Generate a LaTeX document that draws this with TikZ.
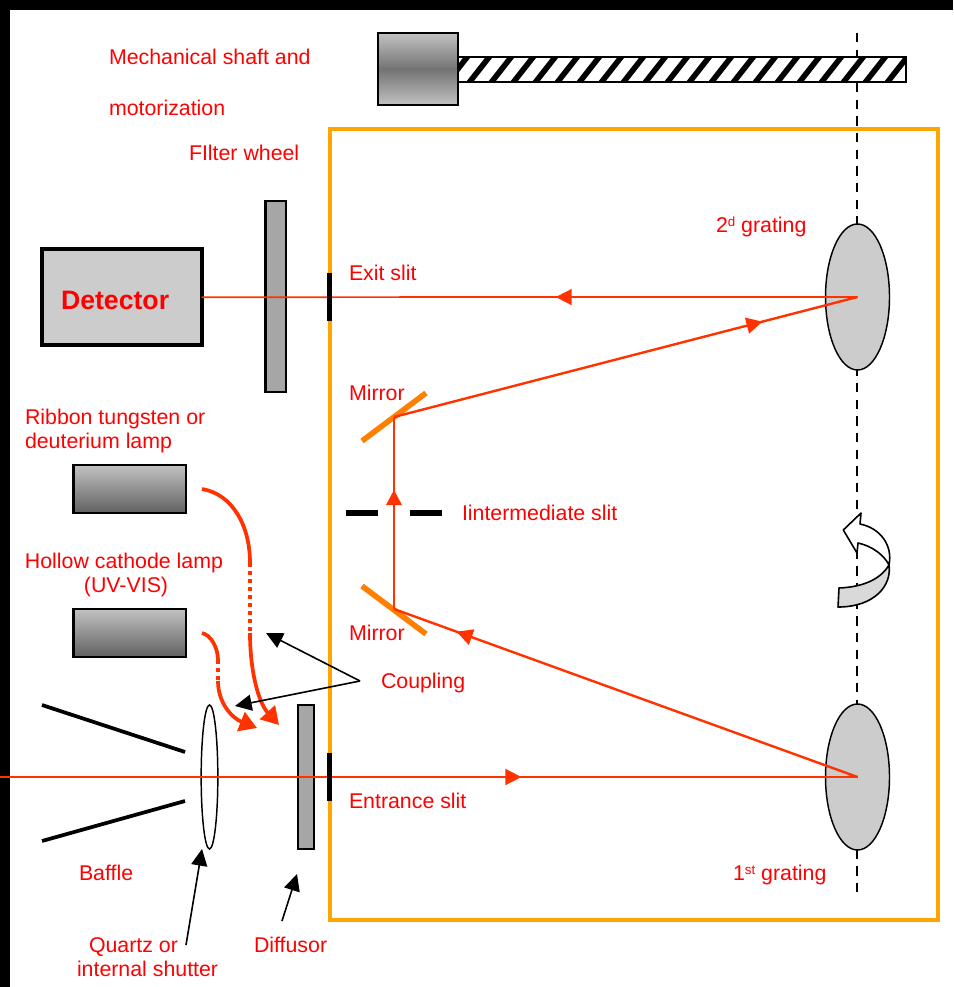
\documentclass[tikz,border=0pt]{standalone}
\usepackage{fontspec}
\setmainfont{Liberation Sans}
\usetikzlibrary{arrows.meta,decorations.markings,shapes.geometric,calc}
\definecolor{beam}{HTML}{FF3300}
\definecolor{lbl}{HTML}{FF0000}
\definecolor{frameor}{HTML}{FFA500}
\definecolor{mirror}{HTML}{FF8000}
\newcommand{\supr}[1]{\raisebox{4.2pt}{\fontsize{10}{10}\selectfont #1}}
\tikzset{
  x=0.75pt,y=-0.75pt,
  every node/.style={outer sep=0pt},
  lab/.style={anchor=base west,inner sep=0,text=lbl,font=\fontsize{16}{18}\selectfont},
  labc/.style={lab,anchor=base},
  box/.style={draw=black,anchor=north west,inner sep=0,line width=1.6pt},
  plate/.style={box,fill=black!35},
  lamp/.style={box,top color=black!24,bottom color=black!62,line width=1.6pt,minimum width=84.5pt,minimum height=36pt},
  slit/.style={fill=black,anchor=north west,inner sep=0,minimum width=4pt,minimum height=36pt},
  grating/.style={draw=black,fill=black!20,ellipse,inner sep=0,line width=1.1pt,minimum width=48pt,minimum height=109.5pt},
  ray/.style={draw=beam,line width=1.3pt},
  rayb/.style={draw=beam,line width=1.8pt},
  midtip/.style={postaction={decorate},decoration={markings,mark=at position #1 with {\arrow{Triangle[length=12pt,width=12pt]}}}},
  mirrorbar/.style={draw=mirror,line width=4.2pt},
  slitbar/.style={line width=3.8pt},
  baffle/.style={line width=2.8pt},
  lampray/.style={draw=beam,line width=2.8pt},
  lampdots/.style={draw=beam,line width=2.8pt,dash pattern=on 2.8pt off 3.2pt},
  lamptip/.style={-{Triangle[length=13pt,width=15pt]}},
  pointer/.style={line width=1.2pt,-{Triangle[length=12.5pt,width=12pt]}},
}
\begin{document}
\begin{tikzpicture}
\useasboundingbox (0,0) rectangle (953,987);
\fill[white] (0,0) rectangle (953,987);
\fill[black] (0,0) rectangle (953,10);
\fill[black] (0,0) rectangle (10,987);

% rotation axis
\coordinate (axtop) at (857,33);
\coordinate (axbot) at (857,897);
\draw[line width=1.4pt,dash pattern=on 7pt off 5.5pt] (axtop) -- (axbot);

% frame
\node[draw=frameor,line width=3pt,anchor=north west,inner sep=0,minimum width=456pt,minimum height=593.25pt] (frame) at (330,129) {};

% shaft + motor
\node[box,line width=1.4pt,fill=white,minimum width=336pt,minimum height=18.5pt] (shaft) at (458,57) {};
\begin{scope}
\clip (458,57) rectangle (906,81);
\foreach \i in {0,...,21}{\draw[line width=4.2pt] ({446+22*\i},84) -- ({446+22*\i+22},56);}
\end{scope}
\draw[line width=1.4pt] (shaft.north west) rectangle (shaft.south east);
\node[box,line width=1.6pt,minimum width=60pt,minimum height=54pt,
  top color=black!24,bottom color=black!24,middle color=black!55] (motor) at (378,33) {};

% gratings
\node[grating] (gr2) at (857.5,297) {};
\node[grating] (gr1) at (857.5,777) {};

% detector, filter, lamps, etc
\node[box,line width=3pt,fill=black!20,minimum width=120pt,minimum height=71.5pt] (det) at (41.5,249.5) {};
\node[plate,minimum width=15.5pt,minimum height=143pt] (filter) at (265.5,201) {};
\node[lamp] (lampa) at (73.5,465) {};
\node[lamp] (lampb) at (73.5,609) {};
\node[plate,minimum width=12pt,minimum height=108pt] (diff) at (298,705) {};
\node[draw=black,ellipse,inner sep=0,line width=1.1pt,minimum width=12.5pt,minimum height=108pt] (lens) at (209.5,777) {};

% baffles
\coordinate (ba1) at (42,705); \coordinate (ba2) at (185,752);
\coordinate (bb1) at (42,841); \coordinate (bb2) at (185,801);
\draw[baffle] (ba1) -- (ba2);
\draw[baffle] (bb1) -- (bb2);

% mirrors
\coordinate (m1a) at (362,441); \coordinate (m1b) at (426,393);
\coordinate (m2a) at (362,586); \coordinate (m2b) at (426,634);
\draw[mirrorbar] (m1a) -- (m1b);
\draw[mirrorbar] (m2a) -- (m2b);

% intermediate slit
\coordinate (is1) at (346,513); \coordinate (is2) at (378,513);
\coordinate (is3) at (410,513); \coordinate (is4) at (442,513);
\draw[slitbar] (is1) -- (is2);
\draw[slitbar] (is3) -- (is4);

% beams
\coordinate (src) at (0,777);
\coordinate (hit1) at (394,417);
\coordinate (hit2) at (394,609);
\coordinate (hitm) at (394,505);
\coordinate (tipm) at (394,490);
\draw[ray,midtip=0.608] (src) -- (gr1.center);
\draw[rayb,midtip=0.865] (gr1.center) -- (hit2);
\draw[rayb] (hit2) -- (hitm);
\draw[ray] (hitm) -- (hit1);
\fill[beam] (tipm) -- ($(hitm)+(-8,0)$) -- ($(hitm)+(8,0)$) -- cycle;
\draw[rayb,midtip=0.795] (hit1) -- (gr2.center);
\draw[ray,midtip=0.46] (gr2.center) -- (det.east);

% slits
\node[slit] (exits) at (327,273) {};
\node[slit] (ents) at (327,753) {};

% lamp rays
\coordinate (la0) at (202,489); \coordinate (la1) at (250,563);
\coordinate (la2) at (250,633); \coordinate (la3) at (279,725);
\coordinate (lb0) at (202,633); \coordinate (lb1) at (218,660);
\coordinate (lb2) at (218,681); \coordinate (lb3) at (257,728);
\draw[lampray] (la0) .. controls (232,494) and (250,525) .. (la1);
\draw[lampdots] (la1) -- (la2);
\draw[lampray,lamptip] (la2) .. controls (250,670) and (258,702) .. (la3);
\draw[lampray] (lb0) .. controls (211,635) and (218,648) .. (lb1);
\draw[lampdots] (lb1) -- (lb2);
\draw[lampray,lamptip] (lb2) .. controls (218,703) and (232,718) .. (lb3);

% rotation arrow
\draw[line width=1.2pt,line join=round,fill=white]
  (843.3,530) -- (861,513) -- (860,524) .. controls (880,528) and (893,545) .. (889,565)
  .. controls (884,555) and (872,546) .. (858,543) -- (857,553) -- cycle;
\draw[line width=1.2pt,line join=round,fill=black!15]
  (839,588) .. controls (862,587) and (880,580) .. (889,565)
  .. controls (892,585) and (875,607) .. (838,607) -- cycle;

% labels
\node[lab] (tshaft) at (109,64.5) {Mechanical shaft and};
\node[lab] (tmotor) at (109,115.5) {motorization};
\node[lab] (tfilter) at (189,160.5) {FIlter wheel};
\node[lab,font=\fontsize{20}{22}\selectfont\bfseries] (tdet) at (61,309) {Detector};
\node[lab] (texit) at (349,280.5) {Exit slit};
\node[lab] (tg2) at (716,232.5) {2\supr{d} grating};
\node[lab] (tm1) at (349,400.5) {Mirror};
\node[lab] (trib) at (25,424.5) {Ribbon tungsten or};
\node[lab] (tdeu) at (25,448.5) {deuterium lamp};
\node[lab] (tint) at (462,520.5) {Iintermediate slit};
\node[labc] (thol) at (124,568.5) {Hollow cathode lamp};
\node[labc] (tuv) at (126,592.5) {(UV-VIS)};
\node[lab] (tm2) at (349,640.5) {Mirror};
\node[lab] (tcoup) at (381,688.5) {Coupling};
\node[lab] (tent) at (349,808.5) {Entrance slit};
\node[lab] (tbaf) at (79,880.5) {Baffle};
\node[lab] (tg1) at (733,880.5) {1\supr{st} grating};
\node[lab] (tq) at (89,952.5) {Quartz or};
\node[lab] (tis) at (77,976.5) {internal shutter};
\node[lab] (tdif) at (254,952.5) {Diffusor};

% pointers
\coordinate (cp) at (360,681);
\coordinate (cpa) at (266,633);
\coordinate (cpb) at (235,706);
\coordinate (qs) at (186,945);
\coordinate (qe) at (202,849);
\coordinate (ds) at (282,921);
\coordinate (de) at (297,874);
\draw[pointer] (cp) -- (cpa);
\draw[pointer] (cp) -- (cpb);
\draw[pointer] (qs) -- (qe);
\draw[pointer] (ds) -- (de);
\end{tikzpicture}
\end{document}
